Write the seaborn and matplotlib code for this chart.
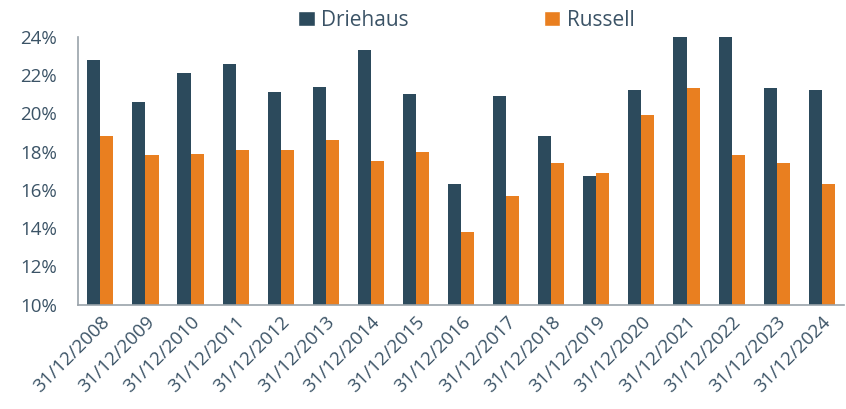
import numpy as np
import pandas as pd
import seaborn as sns
import matplotlib.pyplot as plt
from matplotlib.ticker import FuncFormatter
from matplotlib.patches import Patch

# data (values in %)
dates = ["31/12/2008", "31/12/2009", "31/12/2010", "31/12/2011", "31/12/2012",
         "31/12/2013", "31/12/2014", "31/12/2015", "31/12/2016", "31/12/2017",
         "31/12/2018", "31/12/2019", "31/12/2020", "31/12/2021", "31/12/2022",
         "31/12/2023", "31/12/2024"]
driehaus = [22.8, 20.6, 22.1, 22.6, 21.1, 21.4, 23.3, 21.0, 16.3, 20.9,
            18.8, 16.7, 21.2, 24.8, 24.6, 21.3, 21.2]
russell = [18.8, 17.8, 17.9, 18.1, 18.1, 18.6, 17.5, 18.0, 13.8, 15.7,
           17.4, 16.9, 19.9, 21.3, 17.8, 17.4, 16.3]
series = ["Driehaus", "Russell"]

dark = "#2c4a5c"
orange = "#e97f20"
text_col = "#3b5366"

sns.set_style("white")
plt.rcParams["font.family"] = ["Open Sans", "DejaVu Sans"]

df = pd.DataFrame({
    "date": dates * 2,
    "value": driehaus + russell,
    "series": [series[0]] * len(dates) + [series[1]] * len(dates),
})

fig, ax = plt.subplots(figsize=(8.46, 4.09), dpi=100)
sns.barplot(data=df, x="date", y="value", hue="series",
            palette=[dark, orange], saturation=1, width=0.58, gap=0,
            ax=ax, legend=False, linewidth=0)

ax.set_ylim(10, 24)
ax.set_yticks(np.arange(10, 25, 2))
ax.yaxis.set_major_formatter(FuncFormatter(lambda v, p: f"{v:.0f}%"))
ax.set_xlim(-0.5, len(dates) - 0.5)
ax.set_xlabel("")
ax.set_ylabel("")

for s in ["top", "right"]:
    ax.spines[s].set_visible(False)
for s in ["left", "bottom"]:
    ax.spines[s].set_color("#9aa3aa")
    ax.spines[s].set_linewidth(1.2)

ax.tick_params(axis="y", labelsize=13.5, colors=text_col, length=5,
               color="#9aa3aa", pad=10)
ax.tick_params(axis="x", labelsize=13.5, colors=text_col, length=0, pad=6)
plt.setp(ax.get_xticklabels(), rotation=45, ha="right", rotation_mode="anchor")

handles = [Patch(facecolor=dark, label=series[0]),
           Patch(facecolor=orange, label=series[1])]
leg = fig.legend(handles=handles, loc="upper center", bbox_to_anchor=(0.551, 1.022),
                 ncol=2, frameon=False, fontsize=15, handlelength=0.8,
                 handleheight=0.8, handletextpad=0.3, columnspacing=6.5)
for t in leg.get_texts():
    t.set_color(text_col)

plt.subplots_adjust(left=0.092, right=0.998, top=0.91, bottom=0.255)
plt.savefig("out.png", dpi=100)
